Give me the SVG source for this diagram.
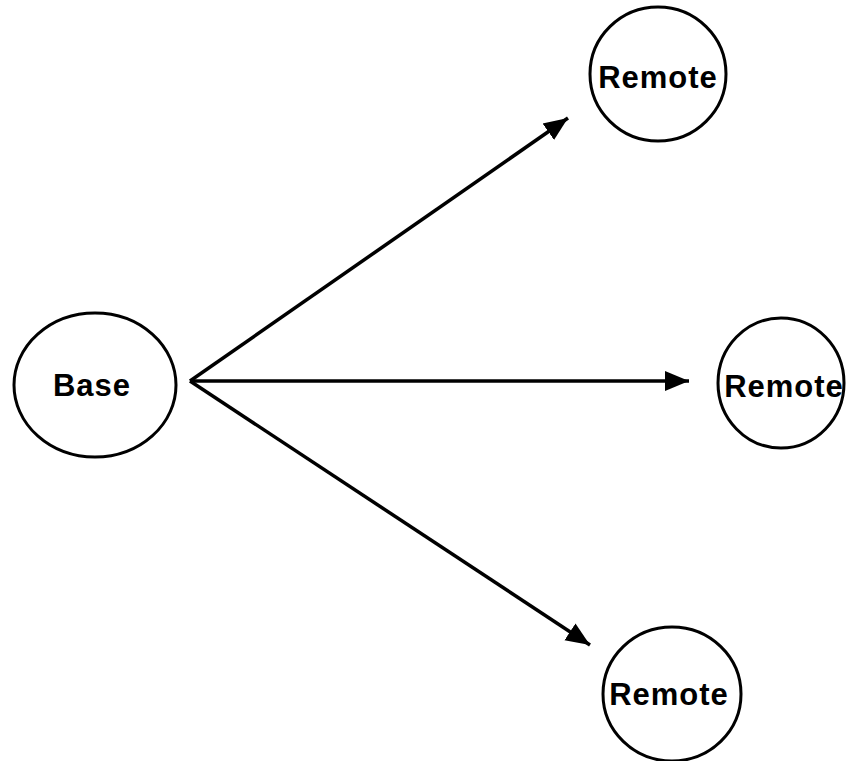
<svg xmlns="http://www.w3.org/2000/svg" width="847" height="761" viewBox="0 0 847 761">
<style>
.node ellipse{fill:#fff;stroke:#000;stroke-width:3}
.node text{font-family:"Liberation Sans",Arial,sans-serif;font-weight:bold;font-size:31px;letter-spacing:1px;text-anchor:middle;fill:#000}
.conn line{stroke:#000;stroke-width:3.5}
</style>
<defs>
<marker id="ah" markerUnits="userSpaceOnUse" markerWidth="26" markerHeight="22" refX="24" refY="11" orient="auto">
<path d="M0,1 L24,11 L0,21 Z" fill="#000"/>
</marker>
</defs>
<rect width="847" height="761" fill="#fff"/>
<g id="connectors" class="conn">
<line x1="190" y1="381" x2="568" y2="118" marker-end="url(#ah)"/>
<line x1="190" y1="381" x2="689" y2="381" marker-end="url(#ah)"/>
<line x1="190" y1="381" x2="590" y2="645" marker-end="url(#ah)"/>
</g>
<g id="base" class="node">
<ellipse cx="95" cy="385" rx="81" ry="72"/>
<text x="92" y="396">Base</text>
</g>
<g id="remote1" class="node">
<ellipse cx="658" cy="74" rx="68" ry="67"/>
<text x="658" y="88">Remote</text>
</g>
<g id="remote2" class="node">
<ellipse cx="781" cy="383" rx="63" ry="65"/>
<text x="784" y="397">Remote</text>
</g>
<g id="remote3" class="node">
<ellipse cx="672" cy="694" rx="69" ry="67"/>
<text x="669" y="705">Remote</text>
</g>
</svg>
